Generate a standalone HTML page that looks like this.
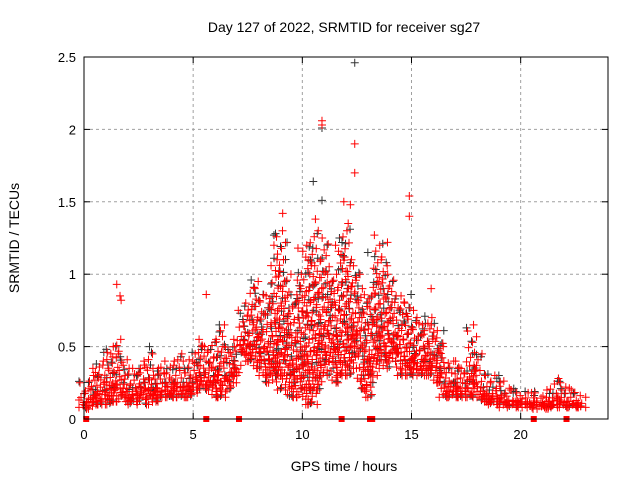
<!DOCTYPE html>
<html><head><meta charset="utf-8"><style>
body{margin:0;background:#fff;}
svg{display:block;font-family:"Liberation Sans",sans-serif;}
</style></head><body>
<svg id="chart" width="640" height="480" viewBox="0 0 640 480">
<text x="344" y="32" font-size="14" text-anchor="middle" fill="#000">Day 127 of 2022, SRMTID for receiver sg27</text>
<text x="344" y="471" font-size="14" text-anchor="middle">GPS time / hours</text>
<text x="19" y="238" font-size="14" text-anchor="middle" transform="rotate(-90 19 238)">SRMTID / TECUs</text>
<g id="grid"></g>
<g id="ticks"></g>
<g id="black"></g>
<g id="red"></g>
<rect x="84" y="57" width="524" height="362" fill="none" stroke="#000" stroke-width="1"/>
</svg>
<script>
const binStart = 0, binStep = 0.25;
const lowVals = [.08,.07,.1,.1,.1,.12,.12,.15,.12,.1,.12,.15,.1,.12,.15,.15,.15,.15,.15,.15,.18,.2,.22,.2,.15,.15,.2,.25,.3,.45,.4,.4,.35,.3,.25,.3,.2,.3,.15,.15,.2,.1,.1,.2,.3,.4,.25,.3,.3,.35,.45,.2,.15,.3,.4,.35,.4,.45,.3,.3,.35,.3,.3,.35,.3,.25,.15,.15,.15,.15,.15,.25,.15,.12,.12,.1,.1,.08,.1,.08,.1,.08,.1,.07,.08,.07,.08,.1,.08,.08,.08,.08];
const highVals = [.25,.3,.35,.4,.45,.5,.55,.45,.35,.35,.35,.4,.45,.35,.35,.4,.4,.45,.4,.4,.45,.5,.55,.5,.55,.65,.5,.5,.55,.75,.8,.95,.9,.85,.8,1.1,1.3,1.0,.85,.9,1.0,1.2,1.3,1.1,1.25,1.0,.95,1.2,1.3,1.1,1.0,.9,.85,.95,1.2,1.1,1.0,.85,.8,.85,.75,.7,.65,.7,.65,.6,.5,.4,.35,.4,.35,.65,.45,.3,.3,.25,.3,.25,.2,.2,.18,.18,.18,.18,.15,.2,.28,.2,.25,.22,.2,.15];
const redOutX = [1.5,1.65,1.7,5.6,10.9,10.9,12.4,12.4,14.9,14.9,11.9,12.2,9.1,10.6,13.3,12.1,8.7,9.8,13.9,15.9];
const redOutY = [.93,.85,.82,.86,2.06,2.03,1.9,1.7,1.54,1.4,1.5,1.48,1.42,1.38,1.27,1.35,1.2,1.18,1.22,.9];
const blackOutX = [12.4,10.9,10.5,10.9,8.7,11.7,6.2,3.0,9.3,13.0,17.8,19.0];
const blackOutY = [2.46,2.01,1.64,1.51,1.27,1.25,.65,.5,1.22,1.15,.45,.3];
const zeroMarkX = [0.1,5.6,7.1,11.8,13.1,13.2,20.6,22.1];
const xTicks = [0,5,10,15,20];
const yTicks = [0,0.5,1,1.5,2,2.5];
const yTickLabels = ["0","0.5","1","1.5","2","2.5"];

const NS="http://www.w3.org/2000/svg";
const X0=84,X1=608,Y0=419,Y1=57;
function xs(h){return X0+h*(X1-X0)/24;}
function ys(v){return Y0-v*(Y0-Y1)/2.5;}
function mk(tag,attrs,parent){const e=document.createElementNS(NS,tag);for(const k in attrs)e.setAttribute(k,attrs[k]);parent.appendChild(e);return e;}
const grid=document.getElementById('grid'),ticks=document.getElementById('ticks');
xTicks.forEach(t=>{
  const x=xs(t);
  if(t>0){const l=mk('line',{x1:x,y1:Y0,x2:x,y2:Y1,stroke:'#a0a0a0','stroke-dasharray':'3,3'},grid);
  
  }
  mk('line',{x1:x,y1:Y0,x2:x,y2:Y0-6,stroke:'#000'},ticks);
  mk('line',{x1:x,y1:Y1,x2:x,y2:Y1+6,stroke:'#000'},ticks);
  const tx=mk('text',{x:x,y:Y0+20,'font-size':13,'text-anchor':'middle'},ticks);
  tx.textContent=t;
  
  
});
yTicks.forEach((t,i)=>{
  const y=ys(t);
  if(t>0&&t<2.5){const l=mk('line',{x1:X0,y1:y,x2:X1,y2:y,stroke:'#a0a0a0','stroke-dasharray':'3,3'},grid);
  
  }
  mk('line',{x1:X0,y1:y,x2:X0+6,y2:y,stroke:'#000'},ticks);
  mk('line',{x1:X1,y1:y,x2:X1-6,y2:y,stroke:'#000'},ticks);
  const tx=mk('text',{x:X0-8,y:y+5,'font-size':13,'text-anchor':'end'},ticks);
  tx.textContent=yTickLabels[i];
  
  
});
function cross(g,h,v,col,dx){
  const x=xs(h)+(dx||0),y=ys(v);
  const p=mk('path',{d:`M${x-4} ${y}H${x+4}M${x} ${y-4}V${y+4}`,stroke:col,'stroke-width':1,fill:'none'},g);
  
  
}
const offs=[-5,-1,3,-3,1,5,-4,2,0,4,-2];
const blackG=document.getElementById('black'),redG=document.getElementById('red');
lowVals.forEach((lo,i)=>{
  const h=binStart+i*binStep,hi=highVals[i];
  const n=Math.max(2,Math.round((hi-lo)/0.03)+1);
  for(let k=0;k<n;k+=3){cross(blackG,h,lo+(hi-lo)*k/(n-1)+0.01,'#333',offs[(k+i+5)%offs.length]);}
  for(let k=0;k<n;k++){const f=k/(n-1);const v=lo+(hi-lo)*f*f*0.4+(hi-lo)*f*0.6;cross(redG,h,v,'#ff0000',offs[(k+i)%offs.length]);}
  for(let k=0;k<4;k++){cross(redG,h,lo+(hi-lo)*0.3*k/3,'#ff0000',offs[(k*3+i+2)%offs.length]);}
});
blackOutX.forEach((h,i)=>cross(blackG,h,blackOutY[i],'#333',0));
redOutX.forEach((h,i)=>cross(redG,h,redOutY[i],'#ff0000',0));
zeroMarkX.forEach(h=>{
  const r=mk('rect',{x:xs(h)-3,y:Y0-3,width:6,height:6,fill:'#ff0000'},redG);
  
  
});
</script>
</body></html>
